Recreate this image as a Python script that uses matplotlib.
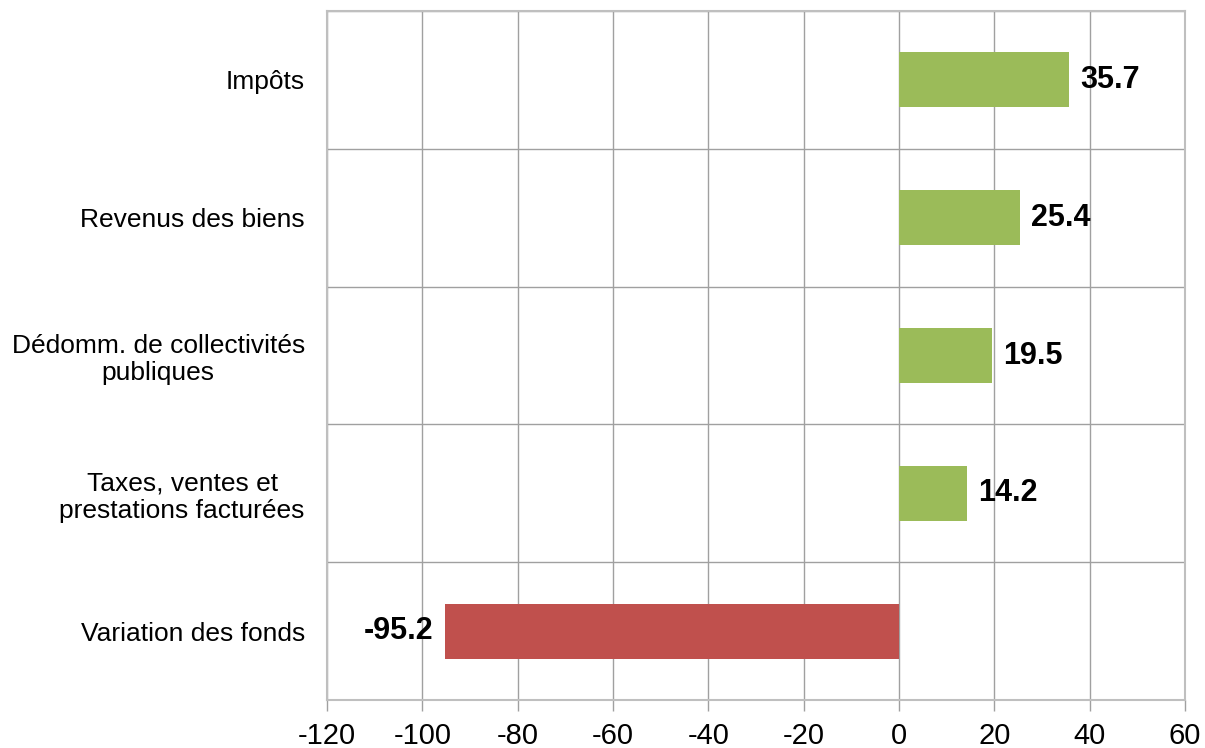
import matplotlib
matplotlib.use("Agg")
import matplotlib.pyplot as plt
import numpy as np

# Data
categories = ["Impôts", "Revenus des biens", "Dédomm. de collectivités\npubliques",
              "Taxes, ventes et\nprestations facturées", "Variation des fonds"]
values = [35.7, 25.4, 19.5, 14.2, -95.2]
xticks = [-120, -100, -80, -60, -40, -20, 0, 20, 40, 60]

green = "#9BBB59"
red = "#C0504D"
grid_col = "#A0A0A0"

plt.rcParams['font.family'] = ['Liberation Sans', 'DejaVu Sans']

fig = plt.figure(figsize=(12.05, 7.48), dpi=100)
ax = fig.add_axes([327 / 1205, 1 - 700 / 748, (1185 - 327) / 1205, (700 - 11) / 748])

y = np.arange(len(categories))
colors = [green if v >= 0 else red for v in values]
ax.barh(y, values, height=0.4, color=colors, zorder=3)

# value labels
for yi, v in zip(y, values):
    if v >= 0:
        ax.text(v + 2.3, yi, f"{v:.1f}", va="center", ha="left",
                fontsize=22, fontweight="bold", zorder=4)
    else:
        ax.text(v - 2.5, yi, f"{v:.1f}", va="center", ha="right",
                fontsize=22, fontweight="bold", zorder=4)

ax.set_xlim(-120, 60)
ax.set_ylim(len(categories) - 0.5, -0.5)
ax.set_xticks(xticks)
ax.set_xticklabels([str(t) for t in xticks], fontsize=21)
ax.set_yticks(y)
ax.set_yticklabels(categories, fontsize=19, multialignment="center", linespacing=1.15)
ax.set_yticks(np.arange(-0.5, len(categories), 1.0), minor=True)

ax.grid(axis="x", color=grid_col, linewidth=1, zorder=0)
ax.grid(axis="y", which="minor", color=grid_col, linewidth=1, zorder=0)
ax.grid(axis="y", which="major", visible=False)

ax.tick_params(axis="x", length=8, color=grid_col, width=1, pad=8)
ax.tick_params(axis="y", which="both", length=0, pad=16)

for s in ax.spines.values():
    s.set_color("#BFBFBF")
    s.set_linewidth(1.5)

fig.savefig("out.png", dpi=100)
